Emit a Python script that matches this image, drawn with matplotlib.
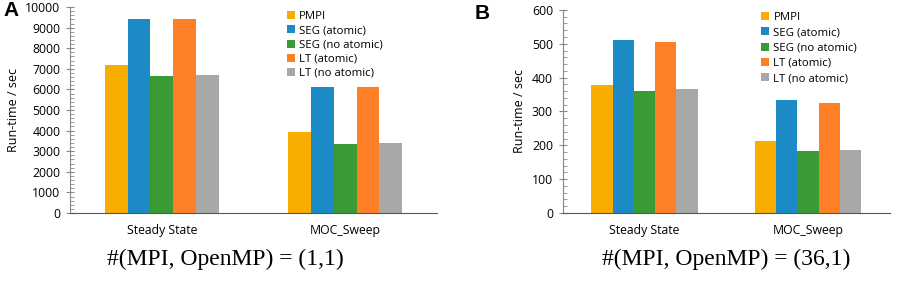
import numpy as np
import matplotlib.pyplot as plt
from matplotlib.ticker import MultipleLocator

categories = ['Steady State', 'MOC_Sweep']
series = ['PMPI', 'SEG (atomic)', 'SEG (no atomic)', 'LT (atomic)', 'LT (no atomic)']
colors = ['#F9AC00', '#1B8AC5', '#3A9B35', '#FF7F27', '#A8A8A8']

vals_a = [[7190, 3910],
          [9410, 6110],
          [6650, 3350],
          [9410, 6110],
          [6700, 3420]]
vals_b = [[379, 212],
          [512, 333],
          [362, 184],
          [506, 325],
          [365, 186]]

plt.rcParams['font.family'] = ['Open Sans', 'DejaVu Sans']

fig = plt.figure(figsize=(9.06, 2.93), dpi=100)
ax_a = fig.add_axes([0.0773, 0.273, 0.405, 0.703])
ax_b = fig.add_axes([0.621, 0.273, 0.361, 0.693])

x = np.arange(len(categories))


def draw(ax, vals, ymax, major, minor, bw, leg_x, leg_y, leg_sp):
    n = len(series)
    for i, (name, col) in enumerate(zip(series, colors)):
        ax.bar(x + (i - (n - 1) / 2) * bw, vals[i], bw, color=col, label=name)
    ax.set_xlim(-0.5, 1.5)
    ax.set_ylim(0, ymax)
    ax.yaxis.set_major_locator(MultipleLocator(major))
    ax.yaxis.set_minor_locator(MultipleLocator(minor))
    ax.set_xticks(x)
    ax.set_xticklabels(categories, fontsize=8.8)
    ax.tick_params(axis='x', length=0, pad=8)
    ax.tick_params(axis='y', which='major', direction='inout', length=6,
                   color='#888888', labelsize=8.8, pad=4)
    ax.tick_params(axis='y', which='minor', direction='in', length=3,
                   color='#888888')
    for s in ['top', 'right']:
        ax.spines[s].set_visible(False)
    ax.spines['left'].set_color('#888888')
    ax.spines['bottom'].set_color('#555555')
    ax.set_ylabel('Run-time / sec', fontsize=9, labelpad=4)
    ax.legend(loc='upper left', bbox_to_anchor=(leg_x, leg_y), frameon=False,
              fontsize=8.2, handlelength=0.7, handleheight=0.7,
              handletextpad=0.35, labelspacing=leg_sp, borderpad=0,
              borderaxespad=0)


draw(ax_a, vals_a, 10000, 1000, 200, 0.124, 0.592, 0.98, 0.28)
draw(ax_b, vals_b, 600, 100, 20, 0.13, 0.608, 0.99, 0.38)

fig.text(0.004, 0.965, 'A', fontsize=15, fontweight='bold', va='center',
         family=['Liberation Sans', 'DejaVu Sans'])
fig.text(0.524, 0.955, 'B', fontsize=15, fontweight='bold', va='center',
         family=['Liberation Sans', 'DejaVu Sans'])

fig.text(0.249, 0.115, '#(MPI, OpenMP) = (1,1)', fontsize=17, ha='center',
         va='center', family=['Liberation Serif', 'DejaVu Serif'])
fig.text(0.802, 0.115, '#(MPI, OpenMP) = (36,1)', fontsize=17, ha='center',
         va='center', family=['Liberation Serif', 'DejaVu Serif'])

fig.savefig('out.png', dpi=100)
